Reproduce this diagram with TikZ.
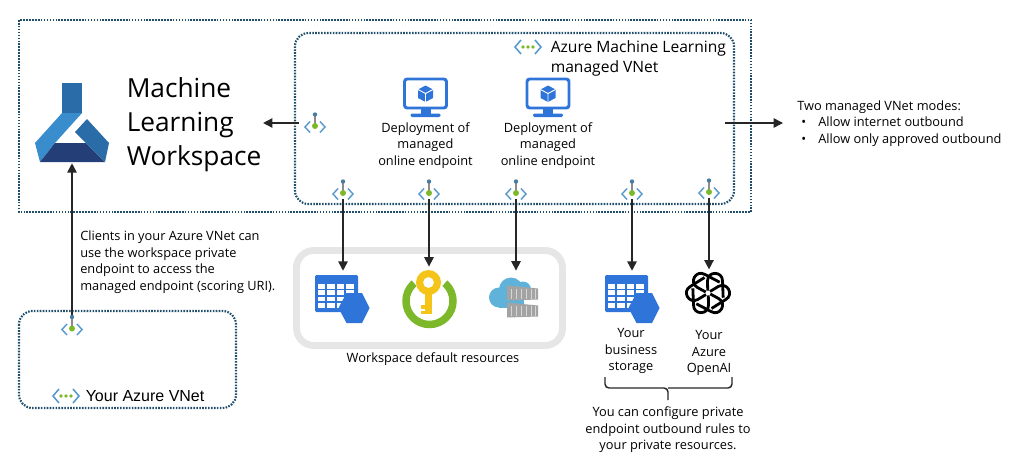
\documentclass[tikz,border=0pt]{standalone}
\usepackage{fontspec}
\setmainfont{Open Sans}
\newfontfamily\arialfont{Liberation Sans}
\usetikzlibrary{arrows.meta,positioning}
\definecolor{edgeblue}{HTML}{1F4E6B}
\definecolor{iconblue}{HTML}{2F74D8}
\definecolor{chevblue}{HTML}{5B9BCB}
\definecolor{leafgreen}{HTML}{7CB82A}
\definecolor{flaskmid}{HTML}{2A6CA8}
\definecolor{flasklight}{HTML}{3A8DCC}
\definecolor{flaskdark}{HTML}{243F78}
\definecolor{keygold}{HTML}{F4C518}
\definecolor{cloudblue}{HTML}{5FB2DA}
\definecolor{boxgrey}{HTML}{E6E6E6}
\definecolor{crategrey}{HTML}{A3A3A3}
\tikzset{
	pep/.pic={
		\draw[chevblue,line width=1.1pt] (-5,-1.5) -- (-10,4) -- (-5,9.5);
		\draw[chevblue,line width=1.1pt] (5,-1.5) -- (10,4) -- (5,9.5);
		\draw[black!45,line width=1pt] (0,-8.5) -- (0,3);
		\fill[chevblue!80!black] (0,-8.5) circle (2.2);
		\fill[leafgreen] (0,3) circle (3);
	},
	vnetmark/.pic={
		\draw[chevblue,line width=1.2pt] (-7,-7) -- (-13,0) -- (-7,7);
		\draw[chevblue,line width=1.2pt] (7,-7) -- (13,0) -- (7,7);
		\foreach \d in {-5,0,5} \fill[leafgreen] (\d,0) circle (1.8);
	},
	flask/.pic={
		\fill[flaskmid] (-10,-39) rectangle (10,-9);
		\fill[flasklight] (-10,-9) -- (10,-9) -- (-17,21) -- (-32,40) -- (-37,21) -- cycle;
		\fill[flaskdark] (-17,21) -- (14,21) -- (33,40) -- (-32,40) -- cycle;
		\fill[flaskmid] (15,-3) -- (37,21) -- (33,40) -- (14,21) -- (3,10) -- cycle;
	},
	monitor/.pic={
		\draw[iconblue,line width=2.2pt,rounded corners=2] (-21,-19) rectangle (21,10);
		\fill[iconblue] (-5,11) rectangle (5,16);
		\fill[iconblue,rounded corners=1] (-15,15.5) rectangle (15,19);
		\fill[iconblue] (0,-12.5) -- (7.5,-8.5) -- (7.5,0) -- (0,4) -- (-7.5,0) -- (-7.5,-8.5) -- cycle;
		\draw[white,line width=.7pt] (-7.5,-8.5) -- (0,-4.5) -- (7.5,-8.5) (0,-4.5) -- (0,4);
	},
	tablehex/.pic={
		\fill[iconblue,rounded corners=1] (-27.5,-22) rectangle (15.5,15);
		\foreach \c in {0,1,2,3} \foreach \r in {0,1,2,3}
			\fill[white] (-24.5+\c*9.4,-13+\r*6.4) rectangle ++(7.4,4.6);
		\fill[iconblue] (27,11) -- (19.5,26) -- (4,26) -- (-4,11) -- (4,-4) -- (19.5,-4) -- cycle;
	},
	vaultkey/.pic={
		\draw[leafgreen,line width=5.6pt] (.5,3.5) circle (23.5);
		\fill[white] (.5,3.5) -- (-28,-30) -- (29,-30) -- cycle;
		\fill[keygold] (-4,-6) rectangle (3,16);
		\fill[keygold] (-8,7) rectangle (-4,11);
		\fill[keygold] (-8,13) rectangle (-4,16);
		\fill[keygold,even odd rule] (-.5,-15) circle (12.5) (-.5,-15) circle (5.5);
	},
	registry/.pic={
		\fill[cloudblue] (-17,2) circle (10) (-5,-6) circle (12) (7,-6) circle (8);
		\fill[cloudblue] (-17,-2) rectangle (8,12);
		\foreach \o in {0,17} {
			\fill[crategrey] (-9,-10+\o) -- (22,-7+\o) -- (22,4+\o) -- (-9,5+\o) -- cycle;
			\foreach \s in {-5,0,5,10,15,19} \draw[crategrey!45,line width=.4pt] (\s,-7+\o) -- (\s,3+\o);
		}
	},
	knotlogo/.pic={
		\foreach \a in {0,60,...,300}
			\draw[black,line width=2.1pt,rotate=\a] (3.5,15.5) -- (17.75,6.5) .. controls (26.4,1.5) and (19,-11.5) .. (10.25,-6.5) -- (2,-1.5);
	}
}
\begin{document}
\begin{tikzpicture}[
	x=.75pt,y=-.75pt,
	iconbox/.style={inner sep=0,minimum width=#1},
	iconbox/.default=24,
	dotbox/.style={draw=edgeblue,line width=1.6pt,dash pattern=on 1.2pt off 1pt},
	flow/.style={-{Stealth[length=7pt,width=7pt,inset=0pt]},line width=1.1pt,draw=black!85},
	lbl/.style={inner sep=0,align=center,font=\fontsize{9.6}{12.4}\selectfont}
	]
	\useasboundingbox (0,0) rectangle (1012,471);
	
	% Frames
	\draw[dotbox] (19,20) rectangle (751,212);
	\draw[dotbox,rounded corners=10pt] (295,33) rectangle (734,204);
	\draw[dotbox,rounded corners=10pt] (19,311) rectangle (236,408);
	\draw[boxgrey,line width=5.2pt,rounded corners=13pt] (296.5,250.5) rectangle (562.5,345.5);
	
	% Workspace
	\node[iconbox=74,minimum height=61.5pt] (flaskicon) at (72,122) {};
	\pic at (flaskicon) {flask};
	\node[anchor=west,inner sep=0,text width=102pt,align=left,font=\fontsize{19.7}{25.5}\selectfont] (ws) at (126.5,125) {Machine\\Learning\\Workspace};
	
	% Managed VNet
	\pic at (528,47) {vnetmark};
	\node[anchor=north west,inner sep=0,align=left,font=\fontsize{11.7}{15}\selectfont] (mvnet) at (550.5,40) {Azure Machine Learning\\managed VNet};
	\node[iconbox=46,minimum height=30pt] (mon1) at (425.5,98) {};
	\node[iconbox=46,minimum height=30pt] (mon2) at (548,98) {};
	\pic at (mon1) {monitor};
	\pic at (mon2) {monitor};
	\node[lbl,below=3pt of mon1] (dep1) {Deployment of\\managed\\online endpoint};
	\node[lbl,below=3pt of mon2] (dep2) {Deployment of\\managed\\online endpoint};
	
	% Private endpoints
	\node[iconbox,minimum height=18pt] (epws) at (315,123) {};
	\node[iconbox,minimum height=13.5pt] (ep1) at (343,190) {};
	\node[iconbox,minimum height=13.5pt] (ep2) at (429,190) {};
	\node[iconbox,minimum height=13.5pt] (ep3) at (516,190) {};
	\node[iconbox,minimum height=13.5pt] (ep4) at (632,190) {};
	\node[iconbox,minimum height=13.5pt] (ep5) at (709,189) {};
	\node[iconbox,minimum height=15pt] (epvnet) at (72,325.5) {};
	\foreach \n in {epws,ep1,ep2,ep3,ep4,ep5,epvnet} \pic at (\n) {pep};
	
	% Resources
	\node[iconbox=56,minimum height=39pt] (tbl1) at (343,297) {};
	\node[iconbox=56,minimum height=46pt] (kv) at (429,297.5) {};
	\node[iconbox=50,minimum height=37pt] (cr) at (516,295.5) {};
	\node[iconbox=56,minimum height=39pt] (tbl2) at (632,297) {};
	\node[iconbox=46,minimum height=35pt] (oai) at (709,293) {};
	\pic at (342.5,297) {tablehex};
	\pic at (632.5,297) {tablehex};
	\pic at (kv) {vaultkey};
	\pic at (cr) {registry};
	\pic at (708,293) {knotlogo};
	
	\node[lbl] (wsres) at (433,359) {Workspace default resources};
	\node[lbl] (biz) at (631,351) {Your\\business\\storage};
	\node[lbl] (yoai) at (709,353) {Your\\Azure\\OpenAI};
	\node[lbl] (cfg) at (668,430) {You can configure private\\endpoint outbound rules to\\your private resources.};
	\node[lbl,anchor=west,align=left] (clients) at (80,262) {Clients in your Azure VNet can\\use the workspace private\\endpoint to access the\\managed endpoint (scoring URI).};
	\node[lbl,anchor=west,align=left] (modes) at (797,123.5) {Two managed VNet modes:\\\hspace*{3pt}\makebox[12.75pt][l]{\textbullet}Allow internet outbound\\\hspace*{3pt}\makebox[12.75pt][l]{\textbullet}Allow only approved outbound};
	
	% Your VNet
	\pic at (66,396) {vnetmark};
	\node[anchor=west,inner sep=0,font=\arialfont\fontsize{12}{14}\selectfont] (yvnet) at (85.5,396) {Your Azure VNet};
	
	% Brace
	\draw[line width=1.1pt,black!85,rounded corners=3pt] (605,377) |- (668,388) -- (668,400);
	\draw[line width=1.1pt,black!85,rounded corners=3pt] (732,377) |- (668,388);
	
	% Connectors
	\coordinate (outstart) at (725,123);
	\coordinate (outend) at (783,123);
	\draw[flow] (epws.west) -- (epws.west -| ws.east);
	\draw[flow] (outstart) -- (outend);
	\draw[flow] (epvnet.north) -- (flaskicon.south);
	\draw[flow] (ep1) -- (tbl1);
	\draw[flow] (ep2) -- (kv);
	\draw[flow] (ep3) -- (cr);
	\draw[flow] (ep4) -- (tbl2);
	\draw[flow] (ep5) -- (oai);
	
\end{tikzpicture}
\end{document}
